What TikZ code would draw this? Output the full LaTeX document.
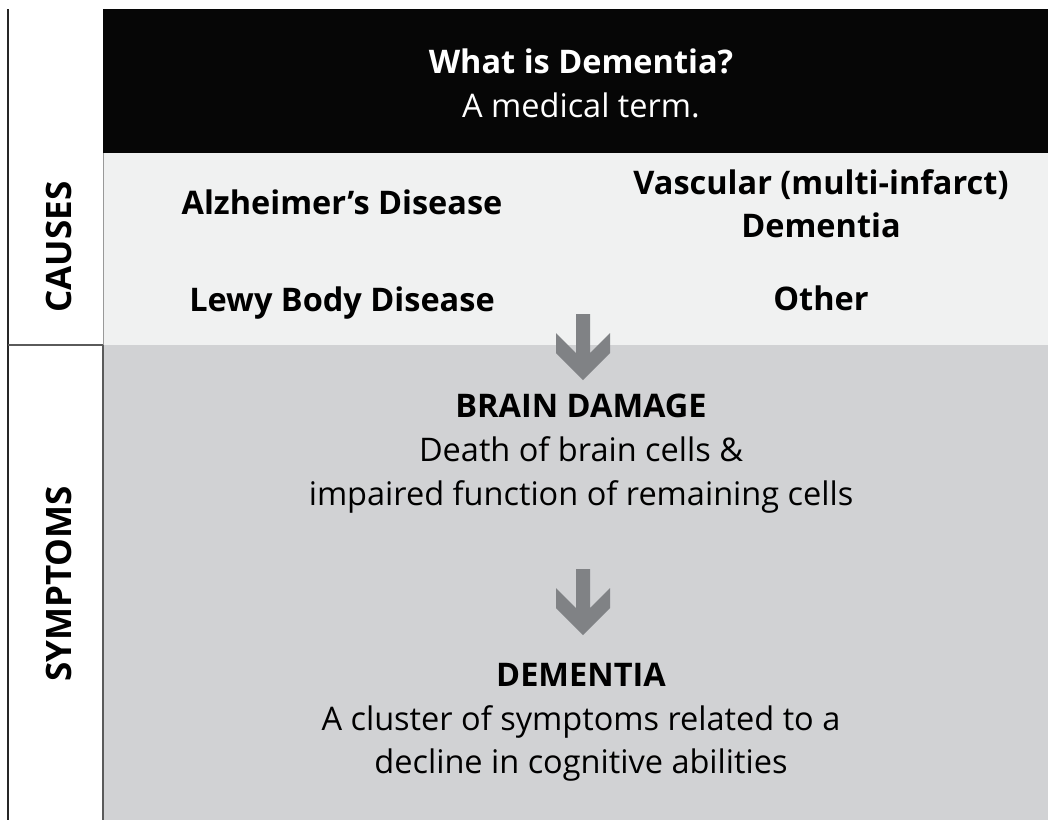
\documentclass[tikz,border=0pt]{standalone}
\usepackage{fontspec}
\setmainfont{Open Sans}
\definecolor{topblack}{RGB}{6,6,6}
\definecolor{causegray}{RGB}{240,241,241}
\definecolor{symgray}{RGB}{209,210,212}
\definecolor{arrowgray}{RGB}{128,130,133}
\definecolor{linegray}{RGB}{90,90,90}
\tikzset{
  boldtxt/.style={inner sep=0pt, anchor=base, font=\fontsize{32.5}{38}\selectfont\bfseries},
  regtxt/.style={inner sep=0pt, anchor=base, font=\fontsize{32.5}{38}\selectfont},
  sidetxt/.style={inner sep=0pt, anchor=base, rotate=90, font=\fontsize{35}{40}\selectfont\bfseries},
  pics/thickarrow/.style={code={
    \fill[arrowgray] (-7,0) -- (-7,39) -- (-27,19) -- (-27,39) -- (0,66) -- (27,39) -- (27,19) -- (7,39) -- (7,0) -- cycle;
  }}
}
\begin{document}
\begin{tikzpicture}[x=1pt,y=-1pt]
\useasboundingbox (0,0) rectangle (1048,820);
\fill[white] (0,0) rectangle (1048,820);
% bands
\fill[topblack] (103,9) rectangle (1048,153);
\fill[causegray] (103,153) rectangle (1048,345);
\fill[symgray] (103,345) rectangle (1048,820);
% side frame
\draw[line width=1.5pt, black!85] (8,9) -- (8,820);
\draw[line width=1.5pt, linegray] (8,345) -- (103,345);
\draw[line width=0.8pt, black!40] (103,153) -- (103,345);
\draw[line width=1.2pt, linegray] (103,345) -- (103,820);
% side labels
\node[sidetxt] (causes) at (71,247) {CAUSES};
\node[sidetxt] (symptoms) at (71,584) {SYMPTOMS};
% title
\node[boldtxt, text=white] (title) at (581,73) {What is Dementia?};
\node[regtxt, text=white] (term) at (581,117) {A medical term.};
% causes
\node[boldtxt] (alz) at (342,214) {Alzheimer’s Disease};
\node[boldtxt] (vasc1) at (821,194) {Vascular (multi-infarct)};
\node[boldtxt] (vasc2) at (821,237) {Dementia};
\node[boldtxt] (lewy) at (342,311) {Lewy Body Disease};
\node[boldtxt] (other) at (821,310) {Other};
% arrows
\pic at (583,314) {thickarrow};
% brain damage
\node[boldtxt] (brain) at (581,417) {BRAIN DAMAGE};
\node[regtxt] (brain2) at (581,461) {Death of brain cells \&};
\node[regtxt] (brain3) at (581,505) {impaired function of remaining cells};
\pic at (583,569) {thickarrow};
% dementia
\node[boldtxt] (dem) at (581,686) {DEMENTIA};
\node[regtxt] (dem2) at (581,730) {A cluster of symptoms related to a};
\node[regtxt] (dem3) at (581,773) {decline in cognitive abilities};
\end{tikzpicture}
\end{document}
